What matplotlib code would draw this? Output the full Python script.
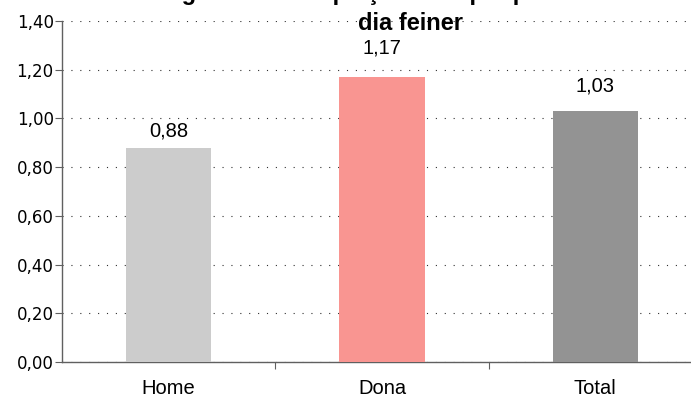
import matplotlib.pyplot as plt
from matplotlib.ticker import FuncFormatter, FixedLocator

# data
categories = ['Home', 'Dona', 'Total']
values = [0.88, 1.17, 1.03]
bar_colors = ['#cccccc', '#f99591', '#939393']
# label offsets above each bar (points)
label_offsets = [12, 21, 18]
title = 'Ràtio global de desplaçaments per persona i sexe el\ndia feiner'

fig = plt.figure(figsize=(6.91, 4.01), dpi=100)
# plot area runs past the right edge, like the source image
ax = fig.add_axes([62 / 691, 1 - 362 / 401, 640 / 691, 341 / 401])

x = range(len(categories))
bars = ax.bar(x, values, width=0.4, color=bar_colors, zorder=3)

for b, v, off in zip(bars, values, label_offsets):
    ax.annotate('{:.2f}'.format(v).replace('.', ','),
                (b.get_x() + b.get_width() / 2, v),
                xytext=(0, off), textcoords='offset points',
                ha='center', va='center', fontsize=14.5, family='Liberation Sans')

ax.set_xlim(-0.5, 2.5)
ax.set_ylim(0, 1.4)
ax.set_yticks([0, 0.2, 0.4, 0.6, 0.8, 1.0, 1.2, 1.4])
ax.yaxis.set_major_formatter(FuncFormatter(lambda v, p: '{:.2f}'.format(v).replace('.', ',')))
for lab in ax.get_yticklabels():
    lab.set_fontsize(12)
    lab.set_family('DejaVu Sans')

# boundary ticks between categories, labels in the middle
ax.xaxis.set_major_locator(FixedLocator([0.5, 1.5]))
ax.xaxis.set_major_formatter(FuncFormatter(lambda v, p: ''))
ax.xaxis.set_minor_locator(FixedLocator(list(x)))
ax.set_xticklabels(categories, minor=True, fontsize=14.5, family='Liberation Sans')
ax.tick_params(axis='x', which='minor', length=0, pad=12)
ax.tick_params(axis='x', which='major', length=5, color='#606060')
ax.tick_params(axis='y', length=5, color='#606060', pad=1)

ax.yaxis.grid(True, color='#303030', linewidth=0.8, linestyle=(0, (1, 7)), zorder=0)
for s in ['top', 'right']:
    ax.spines[s].set_visible(False)
for s in ['left', 'bottom']:
    ax.spines[s].set_color('#606060')
    ax.spines[s].set_linewidth(1)

# first title line sits mostly above the image, as in the source
fig.text(410 / 691, 1 - 30 / 401, title, ha='center', va='baseline',
         fontsize=17, fontweight='bold', family='Liberation Sans', linespacing=1.4)

fig.savefig('out.png', dpi=100)
